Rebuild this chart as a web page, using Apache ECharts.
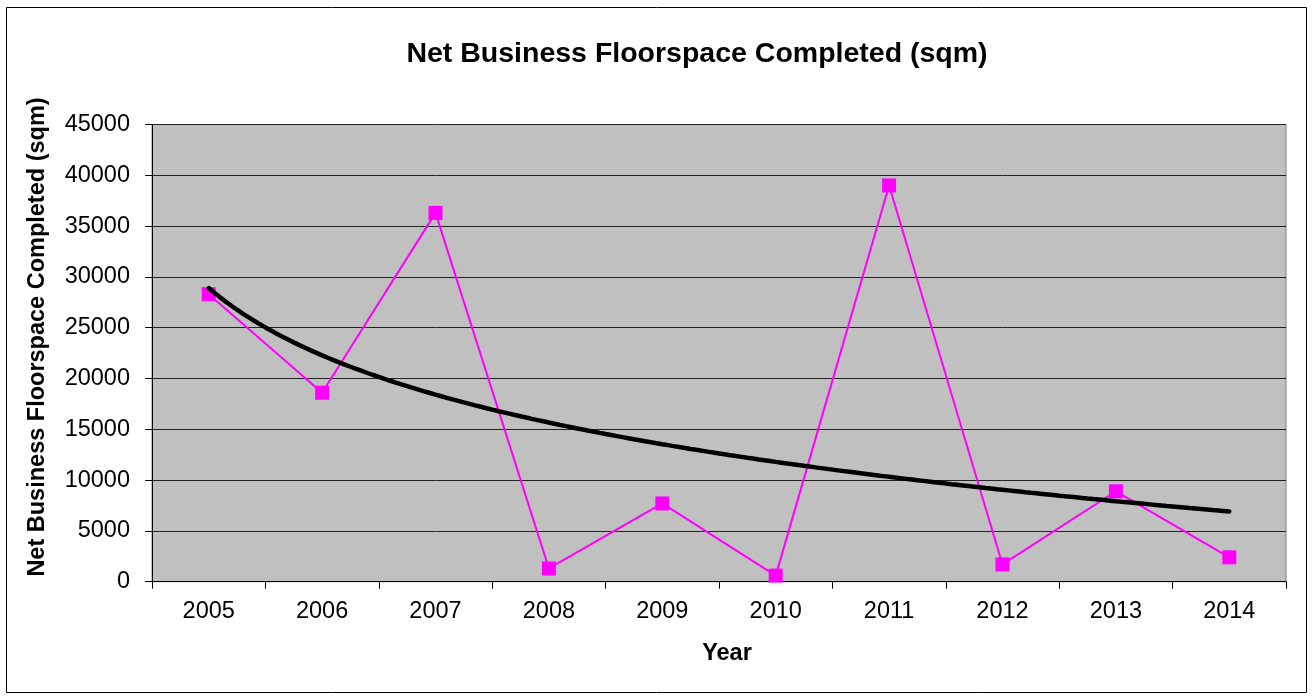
<!DOCTYPE html>
<html>
<head>
<meta charset="utf-8">
<script src="https://cdn.jsdelivr.net/npm/echarts@6/dist/echarts.min.js"></script>
<style>
  html, body { margin: 0; padding: 0; background: #ffffff; }
  #chart { width: 1313px; height: 700px; }
</style>
</head>
<body>
<div id="chart"></div>
<script>
// Net business floorspace completed per year (sqm)
const years = ['2005', '2006', '2007', '2008', '2009', '2010', '2011', '2012', '2013', '2014'];
const floorspace = [28300, 18600, 36300, 1300, 7700, 600, 39000, 1700, 8900, 2400];
const yTicks = { min: 0, max: 45000, interval: 5000 };

// Logarithmic trend line y = a + b*ln(x), least-squares fit on the yearly values (x = 1..n)
function logFit(values) {
  const n = values.length;
  const lx = values.map((_, i) => Math.log(i + 1));
  const mx = lx.reduce((s, v) => s + v, 0) / n;
  const my = values.reduce((s, v) => s + v, 0) / n;
  let sxy = 0, sxx = 0;
  for (let i = 0; i < n; i++) {
    sxy += (lx[i] - mx) * (values[i] - my);
    sxx += (lx[i] - mx) * (lx[i] - mx);
  }
  const b = sxy / sxx;
  const a = my - b * mx;
  return x => a + b * Math.log(x);
}
const trendFn = logFit(floorspace);
const trend = [];
for (let k = 0; k <= 180; k++) {
  const x = 1 + k * (floorspace.length - 1) / 180;
  trend.push([x, trendFn(x)]);
}

const chart = echarts.init(document.getElementById('chart'));
const font = 'Liberation Sans, Arial, sans-serif';

chart.setOption({
  animation: false,
  backgroundColor: '#ffffff',
  grid: {
    left: 152, right: 27, top: 124.5, bottom: 118.3,
    show: true, backgroundColor: '#c0c0c0', borderColor: '#808080', borderWidth: 1
  },
  xAxis: [
    {
      type: 'category',
      data: years,
      boundaryGap: true,
      axisLine: { lineStyle: { color: '#000000', width: 1 } },
      axisTick: { show: true, length: 7, lineStyle: { color: '#000000' } },
      axisLabel: { color: '#000000', fontSize: 23.5, fontFamily: font, margin: 18 },
      splitLine: { show: false }
    },
    {
      type: 'value',
      min: 0.5, max: years.length + 0.5,
      show: false
    }
  ],
  yAxis: {
    type: 'value',
    min: yTicks.min, max: yTicks.max, interval: yTicks.interval,
    axisLine: { show: true, lineStyle: { color: '#000000', width: 1 } },
    axisTick: { show: true, length: 7, lineStyle: { color: '#000000' } },
    axisLabel: {
      color: '#000000', fontSize: 23.5, fontFamily: font, margin: 22,
      formatter: v => String(v)
    },
    splitLine: { show: true, lineStyle: { color: '#222222', width: 1 } }
  },
  series: [
    {
      name: 'Floorspace',
      type: 'line',
      xAxisIndex: 0,
      data: floorspace,
      symbol: 'rect',
      symbolSize: 14,
      lineStyle: { color: '#ff00ff', width: 2 },
      itemStyle: { color: '#ff00ff' },
      z: 3
    },
    {
      name: 'Log trend',
      type: 'line',
      xAxisIndex: 1,
      data: trend,
      showSymbol: false,
      smooth: false,
      lineStyle: { color: '#000000', width: 4.5, cap: 'round' },
      z: 4
    }
  ],
  graphic: [
    {
      type: 'rect',
      shape: { x: 6.5, y: 7.5, width: 1300, height: 685 },
      style: { fill: null, stroke: '#000000', lineWidth: 1 },
      silent: true, z: -10
    },
    {
      type: 'text',
      x: 697, y: 54,
      style: {
        text: 'Net Business Floorspace Completed (sqm)',
        font: 'bold 28.5px ' + font,
        fill: '#000000', textAlign: 'center', textVerticalAlign: 'middle'
      }
    },
    {
      type: 'text',
      x: 727, y: 654,
      style: {
        text: 'Year',
        font: 'bold 23.5px ' + font,
        fill: '#000000', textAlign: 'center', textVerticalAlign: 'middle'
      }
    },
    {
      type: 'text',
      x: 38, y: 337,
      rotation: Math.PI / 2,
      style: {
        text: 'Net Business Floorspace Completed (sqm)',
        font: 'bold 23.5px ' + font,
        fill: '#000000', textAlign: 'center', textVerticalAlign: 'middle'
      }
    }
  ]
});
</script>
</body>
</html>
